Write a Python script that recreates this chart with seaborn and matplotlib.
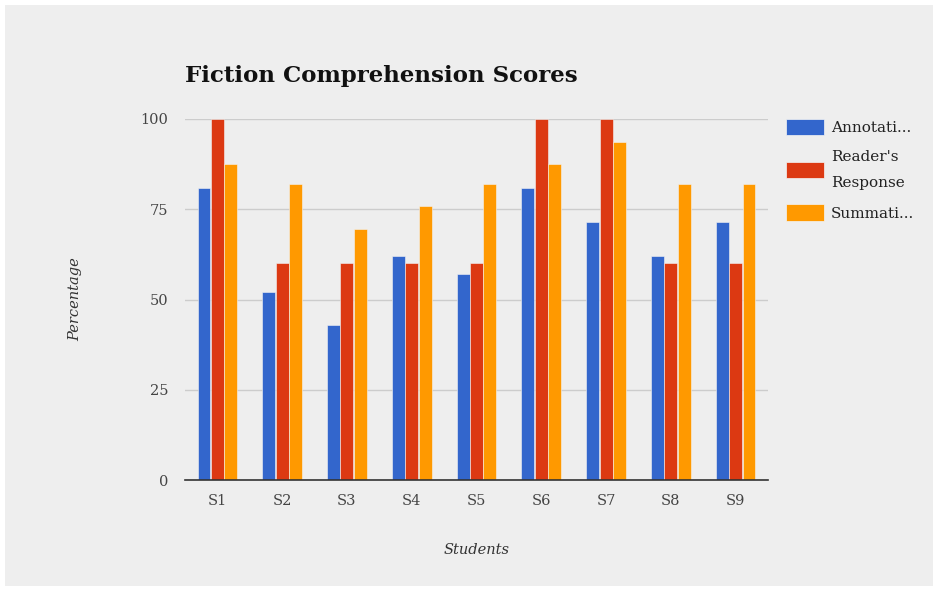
import pandas as pd
import seaborn as sns
import matplotlib.pyplot as plt
from matplotlib.patches import Rectangle

students = ['S1', 'S2', 'S3', 'S4', 'S5', 'S6', 'S7', 'S8', 'S9']
annotation = [81, 52, 43, 62, 57, 81, 71.4, 62, 71.4]
readers_response = [100, 60, 60, 60, 60, 100, 100, 60, 60]
summative = [87.5, 82, 69.5, 76, 82, 87.5, 93.75, 82, 82]

series_names = ['Annotation', "Reader's Response", 'Summative']
legend_labels = ['Annotati...', "Reader's\nResponse", 'Summati...']
colors = ['#3366cc', '#dc3912', '#ff9900']

df = pd.DataFrame({
  'student': students * 3,
  'series': [s for s in series_names for _ in students],
  'score': annotation + readers_response + summative,
})

bg = '#eeeeee'
serif = 'DejaVu Serif'

fig = plt.figure(figsize=(9.38, 5.89), dpi=100, facecolor='white')
fig.patches.append(Rectangle((5 / 938, 3 / 589), 928 / 938, 581 / 589,
                             transform=fig.transFigure, facecolor=bg,
                             edgecolor='none', zorder=-10))
ax = fig.add_axes([185 / 938, 1 - 480 / 589, 583 / 938, 361 / 589])
ax.set_facecolor(bg)

sns.barplot(data=df, x='student', y='score', hue='series', hue_order=series_names,
            palette=colors, width=0.62, gap=0.03, ax=ax, saturation=1,
            edgecolor='#f4f4f4', linewidth=0.4, legend=False)

ax.set_xlim(-0.5, 8.5)
ax.set_ylim(0, 100)
ax.set_yticks([0, 25, 50, 75, 100])
ax.grid(axis='y', color='#cccccc', linewidth=1)
ax.set_axisbelow(True)
for s in ['top', 'right', 'left']:
  ax.spines[s].set_visible(False)
ax.spines['bottom'].set_color('#333333')
ax.spines['bottom'].set_linewidth(1.2)
ax.tick_params(axis='both', length=0, labelsize=10.5, labelcolor='#444444')
ax.tick_params(axis='y', pad=12)
ax.tick_params(axis='x', pad=10)
for lab in ax.get_xticklabels() + ax.get_yticklabels():
  lab.set_fontfamily(serif)

ax.set_xlabel('Students', fontsize=10.5, style='italic', family=serif,
              color='#333333', labelpad=25)
ax.set_ylabel('Percentage', fontsize=10.5, style='italic', family=serif,
              color='#333333', labelpad=42)

fig.text(185 / 938, 1 - 76 / 589, 'Fiction Comprehension Scores', fontsize=16.5,
         fontweight='bold', family=serif, color='#111111', va='center', ha='left')

handles = [Rectangle((0, 0), 1, 1, facecolor=c, edgecolor='#f4f4f4', linewidth=0.5)
           for c in colors]
leg = fig.legend(handles, legend_labels, loc='upper left',
                 bbox_to_anchor=(780 / 938, 1 - 113 / 589), frameon=False,
                 prop={'family': serif, 'size': 11}, labelcolor='#222222',
                 handlelength=2.5, handleheight=1.25, handletextpad=0.45,
                 labelspacing=0.95, borderaxespad=0)
for t in leg.get_texts():
  t.set_linespacing(2.1)

fig.savefig('out.png', dpi=100, facecolor='white')
